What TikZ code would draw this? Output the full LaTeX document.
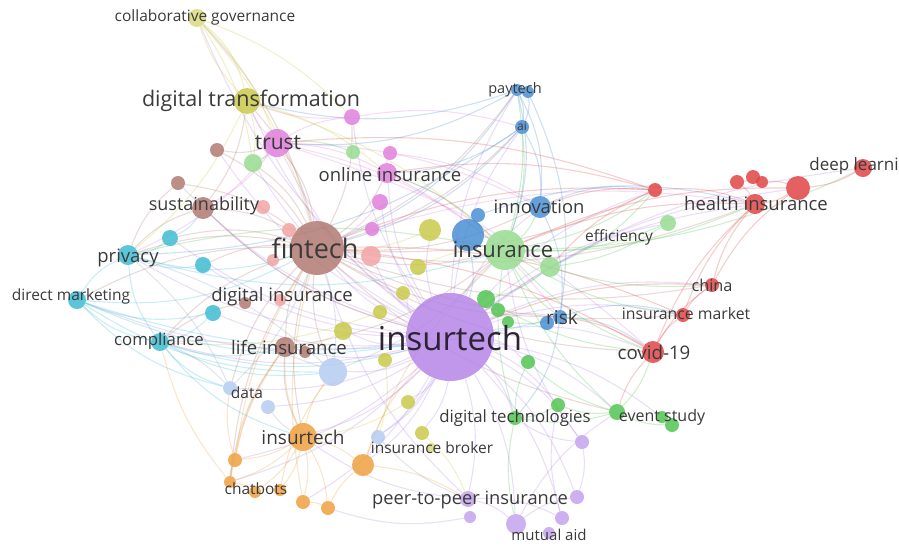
\documentclass[tikz,border=0pt]{standalone}
\usepackage{fontspec}
\setmainfont{Open Sans}
\pgfdeclarelayer{bg}
\pgfsetlayers{bg,main}

\definecolor{cPurple}{HTML}{B585E6}
\definecolor{cLpurple}{HTML}{C4A2EC}
\definecolor{cBrown}{HTML}{B07A72}
\definecolor{cMagenta}{HTML}{E07FDC}
\definecolor{cOlive}{HTML}{C9C94A}
\definecolor{cGreen}{HTML}{52C452}
\definecolor{cLgreen}{HTML}{98DC90}
\definecolor{cBlue}{HTML}{4A8FD4}
\definecolor{cCyan}{HTML}{40BCD2}
\definecolor{cRed}{HTML}{E04545}
\definecolor{cOrange}{HTML}{EFA040}
\definecolor{cLblue}{HTML}{B6CBF0}
\definecolor{cSalmon}{HTML}{F2A4A4}
\definecolor{cText}{HTML}{3A3A3A}

\newcommand{\lblsize}[1]{\fontsize{#1}{#1}\selectfont}

\begin{document}
\begin{tikzpicture}[x=1pt,y=-1pt]

  \tikzstyle{bub} = [circle, inner sep=0, fill opacity=0.85]
  \tikzstyle{lbl} = [inner sep=0, text=cText]
  \tikzstyle{edge} = [line width=1.1, opacity=0.27]

  \useasboundingbox (0,0) rectangle (899,547);

  % purple cluster
  \node[bub, fill=cPurple, minimum size=88] (ins) at (450,337) {};
  \node[bub, fill=cLpurple, minimum size=16] (p2p) at (468,499) {};
  \node[bub, fill=cLpurple, minimum size=12] (p2pb) at (470,517) {};
  \node[bub, fill=cLpurple, minimum size=20] (mut) at (516,524) {};
  \node[bub, fill=cLpurple, minimum size=12] (pu0) at (549,533) {};
  \node[bub, fill=cLpurple, minimum size=14] (pu1) at (562,518) {};
  \node[bub, fill=cLpurple, minimum size=14] (pu2) at (577,497) {};
  \node[bub, fill=cLpurple, minimum size=14] (pu3) at (582,442) {};

  % brown cluster
  \node[bub, fill=cBrown, minimum size=54] (fin) at (317,248) {};
  \node[bub, fill=cBrown, minimum size=22] (sus) at (203,208) {};
  \node[bub, fill=cBrown, minimum size=14] (br1) at (217,150) {};
  \node[bub, fill=cBrown, minimum size=14] (br2) at (178,183) {};
  \node[bub, fill=cBrown, minimum size=12] (br3) at (245,303) {};
  \node[bub, fill=cBrown, minimum size=20] (life) at (285,347) {};
  \node[bub, fill=cBrown, minimum size=12] (br4) at (305,352) {};

  % salmon
  \node[bub, fill=cSalmon, minimum size=14] (sa1) at (263,207) {};
  \node[bub, fill=cSalmon, minimum size=14] (sa2) at (289,230) {};
  \node[bub, fill=cSalmon, minimum size=12] (sa3) at (273,260) {};
  \node[bub, fill=cSalmon, minimum size=20] (sa4) at (371,256) {};
  \node[bub, fill=cSalmon, minimum size=12] (sa5) at (280,300) {};

  % magenta cluster
  \node[bub, fill=cMagenta, minimum size=28] (trust) at (277,143) {};
  \node[bub, fill=cMagenta, minimum size=16] (mg1) at (352,117) {};
  \node[bub, fill=cMagenta, minimum size=14] (mg2) at (390,153) {};
  \node[bub, fill=cMagenta, minimum size=20] (onl) at (387,173) {};
  \node[bub, fill=cMagenta, minimum size=16] (mg3) at (380,202) {};
  \node[bub, fill=cMagenta, minimum size=14] (mg4) at (372,229) {};

  % olive cluster
  \node[bub, fill=cOlive, minimum size=26] (dtr) at (247,101) {};
  \node[bub, fill=cOlive!70, minimum size=18] (cgov) at (197,18) {};
  \node[bub, fill=cOlive, minimum size=22] (ye1) at (430,230) {};
  \node[bub, fill=cOlive, minimum size=16] (ye2) at (418,267) {};
  \node[bub, fill=cOlive, minimum size=14] (ye3) at (403,293) {};
  \node[bub, fill=cOlive, minimum size=14] (ye4) at (380,312) {};
  \node[bub, fill=cOlive, minimum size=18] (ye5) at (343,331) {};
  \node[bub, fill=cOlive, minimum size=14] (ye6) at (385,360) {};
  \node[bub, fill=cOlive, minimum size=14] (ye7) at (408,402) {};
  \node[bub, fill=cOlive, minimum size=14] (ye8) at (422,433) {};
  \node[bub, fill=cOlive!70, minimum size=10] (ye9) at (431,448) {};

  % green cluster
  \node[bub, fill=cLgreen, minimum size=40] (ins2) at (505,250) {};
  \node[bub, fill=cLgreen, minimum size=20] (lg1) at (550,267) {};
  \node[bub, fill=cLgreen, minimum size=16] (lg2) at (668,223) {};
  \node[bub, fill=cLgreen, minimum size=18] (gr1) at (253,163) {};
  \node[bub, fill=cLgreen, minimum size=14] (gr2) at (353,152) {};
  \node[bub, fill=cGreen, minimum size=18] (gr3) at (486,299) {};
  \node[bub, fill=cGreen, minimum size=14] (gr4) at (498,310) {};
  \node[bub, fill=cGreen, minimum size=12] (gr5) at (508,322) {};
  \node[bub, fill=cGreen, minimum size=14] (gr6) at (528,362) {};
  \node[bub, fill=cGreen, minimum size=14] (dtec) at (515,418) {};
  \node[bub, fill=cGreen, minimum size=14] (gr7) at (558,405) {};
  \node[bub, fill=cGreen, minimum size=16] (evs) at (617,412) {};
  \node[bub, fill=cGreen, minimum size=12] (gr8) at (662,417) {};
  \node[bub, fill=cGreen, minimum size=14] (gr9) at (672,425) {};

  % blue cluster
  \node[bub, fill=cBlue, minimum size=32] (bl1) at (468,235) {};
  \node[bub, fill=cBlue, minimum size=14] (bl2) at (478,215) {};
  \node[bub, fill=cBlue, minimum size=22] (inn) at (540,207) {};
  \node[bub, fill=cBlue, minimum size=12] (pay) at (517,90) {};
  \node[bub, fill=cBlue, minimum size=12] (payb) at (528,92) {};
  \node[bub, fill=cBlue, minimum size=14] (ai) at (522,127) {};
  \node[bub, fill=cBlue, minimum size=14] (risk) at (560,317) {};
  \node[bub, fill=cBlue, minimum size=14] (bl3) at (547,323) {};

  % cyan cluster
  \node[bub, fill=cCyan, minimum size=20] (priv) at (128,255) {};
  \node[bub, fill=cCyan, minimum size=16] (cy1) at (170,238) {};
  \node[bub, fill=cCyan, minimum size=16] (cy2) at (203,265) {};
  \node[bub, fill=cCyan, minimum size=18] (dmk) at (77,300) {};
  \node[bub, fill=cCyan, minimum size=16] (cy3) at (213,313) {};
  \node[bub, fill=cCyan, minimum size=18] (comp) at (160,342) {};

  % light blue
  \node[bub, fill=cLblue, minimum size=28] (lb1) at (333,372) {};
  \node[bub, fill=cLblue, minimum size=14] (data) at (230,388) {};
  \node[bub, fill=cLblue, minimum size=14] (lb2) at (268,407) {};
  \node[bub, fill=cLblue, minimum size=14] (lb3) at (378,437) {};

  % orange cluster
  \node[bub, fill=cOrange, minimum size=28] (oins) at (303,437) {};
  \node[bub, fill=cOrange, minimum size=14] (or1) at (235,460) {};
  \node[bub, fill=cOrange, minimum size=12] (chat) at (230,482) {};
  \node[bub, fill=cOrange, minimum size=12] (or2) at (255,492) {};
  \node[bub, fill=cOrange, minimum size=12] (or3) at (280,490) {};
  \node[bub, fill=cOrange, minimum size=14] (or4) at (303,502) {};
  \node[bub, fill=cOrange, minimum size=14] (or5) at (328,508) {};
  \node[bub, fill=cOrange, minimum size=22] (or6) at (363,465) {};

  % red cluster
  \node[bub, fill=cRed, minimum size=14] (re1) at (655,190) {};
  \node[bub, fill=cRed, minimum size=14] (re2) at (737,182) {};
  \node[bub, fill=cRed, minimum size=14] (re3) at (753,177) {};
  \node[bub, fill=cRed, minimum size=12] (re4) at (762,182) {};
  \node[bub, fill=cRed, minimum size=24] (re5) at (798,188) {};
  \node[bub, fill=cRed, minimum size=20] (hlth) at (755,204) {};
  \node[bub, fill=cRed, minimum size=18] (deep) at (863,168) {};
  \node[bub, fill=cRed, minimum size=14] (chn) at (712,285) {};
  \node[bub, fill=cRed, minimum size=14] (mkt) at (683,315) {};
  \node[bub, fill=cRed, minimum size=22] (cov) at (653,352) {};

  % links
  \begin{pgfonlayer}{bg}
    \foreach \a/\b in {ins/fin, ins/ins2, ins/trust, ins/dtr, ins/onl, ins/mg1, ins/priv, ins/comp,
      ins/dmk, ins/life, ins/oins, ins/chat, ins/or1, ins/or4, ins/or6, ins/p2p, ins/mut, ins/pu1,
      ins/pu2, ins/pu3, ins/dtec, ins/evs, ins/cov, ins/mkt, ins/chn, ins/hlth, ins/re1, ins/re5,
      ins/risk, ins/inn, ins/pay, ins/ai, ins/sus, ins/data, ins/lb1, ins/lb2, ins/lb3, ins/cy1,
      ins/cy2, ins/cy3, ins/br1, ins/gr1, ins/lg2, ins/deep, ins/cgov, ins/ye1, ins/ye3, ins/ye5,
      ins/ye7, ins/ye8, ins/gr6, ins/gr9, p2p/mut, p2p/pu1, mut/pu2, pu3/dtec, pu3/pu2, p2p/oins,
      mut/evs, pu3/ins2, p2p/fin, pu1/gr7, p2pb/or5, ins/mg3, ins/br2, ins/sa4, ins/gr7}
      \draw[edge, cPurple] (\a) to[bend left=14] (\b);
    \foreach \a/\b in {fin/trust, fin/dtr, fin/sus, fin/priv, fin/comp, fin/dmk, fin/onl, fin/ins2,
      fin/inn, fin/hlth, fin/cov, fin/risk, fin/life, fin/oins, fin/cy1, fin/cy2, fin/br1, fin/br2,
      fin/mg1, fin/gr1, fin/re1, fin/chn, fin/mkt, fin/pay, fin/ai, fin/chat, fin/data, fin/lb1,
      fin/cgov, fin/evs, sus/priv, sus/dtr, br2/priv, br1/trust, life/oins, life/chat, br3/comp,
      sus/ins, life/ins2}
      \draw[edge, cBrown] (\a) to[bend right=14] (\b);
    \foreach \a/\b in {trust/dtr, trust/onl, trust/mg1, trust/ins2, trust/inn, trust/priv, trust/sus,
      onl/ins2, onl/mg2, mg1/dtr, onl/risk, mg3/fin, mg1/ai, mg2/inn, trust/cov, mg4/hlth}
      \draw[edge, cMagenta] (\a) to[bend left=12] (\b);
    \foreach \a/\b in {dtr/cgov, cgov/trust, cgov/fin, cgov/mg1, dtr/gr1, dtr/ins2, dtr/onl,
      ye1/fin, ye2/ins2, ye5/life, ye7/oins, ye8/p2p, dtr/priv, cgov/gr1, ye4/comp, ye6/lb3}
      \draw[edge, cOlive] (\a) to[bend left=12] (\b);
    \draw[edge, cOlive] (dtr) to[bend right=18] (cgov);
    \foreach \a/\b in {ins2/inn, ins2/hlth, ins2/lg2, ins2/evs, ins2/cov, ins2/risk, ins2/dtec,
      ins2/re1, ins2/pay, ins2/ai, lg1/lg2, lg1/re1, ins2/chn, ins2/mkt, dtec/evs, dtec/gr7,
      gr7/evs, evs/gr9, evs/cov, gr6/dtec, gr6/evs, gr1/trust, ins2/onl, ins2/priv, gr3/lg1,
      ins2/deep, dtec/mut, gr2/trust, gr3/cov, gr5/risk}
      \draw[edge, cGreen] (\a) to[bend right=12] (\b);
    \foreach \a/\b in {pay/ai, payb/ai, pay/inn, ai/inn, pay/fin, ai/fin, pay/ins2, ai/onl, pay/trust,
      inn/risk, risk/cov, risk/mkt, risk/dtec, bl1/ins2, inn/re1, pay/dtr, ai/priv, bl1/ins,
      payb/risk, bl2/hlth}
      \draw[edge, cBlue] (\a) to[bend left=16] (\b);
    \foreach \a/\b in {priv/dmk, priv/comp, dmk/comp, priv/cy1, priv/cy2, dmk/cy3, comp/cy3,
      comp/life, priv/fin, dmk/fin, comp/data, comp/lb1, dmk/lb1, comp/oins, dmk/data, cy1/sus,
      priv/ins2, comp/ins, dmk/risk, dmk/ins}
      \draw[edge, cCyan] (\a) to[bend right=16] (\b);
    \foreach \a/\b in {hlth/re1, hlth/re5, re5/deep, re2/re3, re3/re4, re5/re4, hlth/re2, re1/inn,
      re1/fin, hlth/cov, chn/mkt, mkt/cov, chn/cov, cov/evs, cov/risk, re1/lg1, hlth/chn, hlth/ins2,
      cov/fin, mkt/fin, chn/ins, re5/ins2, re1/onl, hlth/mkt, re5/chn, re1/trust}
      \draw[edge, cRed] (\a) to[bend right=12] (\b);
    \foreach \a/\b in {oins/chat, oins/or1, oins/or2, oins/or3, oins/or4, oins/or5, oins/or6,
      chat/or1, chat/or2, or2/or3, or4/or5, or5/or6, or6/p2p, or1/life, chat/life, or3/lb1, or6/ins,
      oins/lb1, or1/data, or4/fin, oins/life, chat/comp, or6/ins2, or1/fin}
      \draw[edge, cOrange] (\a) to[bend left=12] (\b);
    \foreach \a/\b in {lb1/fin, lb1/comp, lb1/priv, data/comp, data/fin, lb2/oins, lb3/ins,
      lb3/p2p, lb1/ins2, data/priv}
      \draw[edge, cLblue!80!black] (\a) to[bend right=12] (\b);
  \end{pgfonlayer}

  % labels
  \node[lbl, text=cText!60!cPurple!40!black, font=\lblsize{33}] (ins-l) at (450,338) {insurtech};
  \node[lbl, font=\lblsize{27}] (fin-l) at (315,248) {fintech};
  \node[lbl, font=\lblsize{22}] (ins2-l) at (503,250) {insurance};
  \node[lbl, font=\lblsize{21.5}] (dtr-l) at (251,101) {digital transformation};
  \node[lbl, font=\lblsize{15.5}] (cgov-l) at (205,17) {collaborative governance};
  \node[lbl, font=\lblsize{21}] (trust-l) at (278,143) {trust};
  \node[lbl, font=\lblsize{18.5}] (onl-l) at (390,175) {online insurance};
  \node[lbl, font=\lblsize{18}] (sus-l) at (204,206) {sustainability};
  \node[lbl, font=\lblsize{18.4}] (inn-l) at (539,207) {innovation};
  \node[lbl, font=\lblsize{14.5}] (pay-l) at (515,90) {paytech};
  \node[lbl, font=\lblsize{12}] (ai-l) at (522,126) {ai};
  \node[lbl, font=\lblsize{15.5}] (eff-l) at (619,237) {efficiency};
  \node[lbl, font=\lblsize{18.5}] (hlth-l) at (756,204) {health insurance};
  \node[lbl, font=\lblsize{17}] (deep-l) at (854,166) {deep learni};
  \node[lbl, font=\lblsize{18.5}] (priv-l) at (128,258) {privacy};
  \node[lbl, font=\lblsize{15.5}] (dmk-l) at (71,296) {direct marketing};
  \node[lbl, font=\lblsize{18.5}] (dins-l) at (282,297) {digital insurance};
  \node[lbl, font=\lblsize{16.8}] (comp-l) at (159,341) {compliance};
  \node[lbl, font=\lblsize{18.6}] (life-l) at (289,347) {life insurance};
  \node[lbl, font=\lblsize{15.5}] (data-l) at (247,393) {data};
  \node[lbl, font=\lblsize{19}] (oins-l) at (303,437) {insurtech};
  \node[lbl, font=\lblsize{15.5}] (chat-l) at (256,489) {chatbots};
  \node[lbl, font=\lblsize{15.5}] (brk-l) at (432,448) {insurance broker};
  \node[lbl, font=\lblsize{16.8}] (dtec-l) at (515,418) {digital technologies};
  \node[lbl, font=\lblsize{18.3}] (p2p-l) at (470,500) {peer-to-peer insurance};
  \node[lbl, font=\lblsize{15}] (mut-l) at (549,535) {mutual aid};
  \node[lbl, font=\lblsize{16}] (evs-l) at (662,417) {event study};
  \node[lbl, font=\lblsize{19}] (risk-l) at (562,317) {risk};
  \node[lbl, font=\lblsize{16.3}] (chn-l) at (712,285) {china};
  \node[lbl, font=\lblsize{15.8}] (mkt-l) at (686,314) {insurance market};
  \node[lbl, font=\lblsize{18.7}] (cov-l) at (654,352) {covid-19};

\end{tikzpicture}
\end{document}
